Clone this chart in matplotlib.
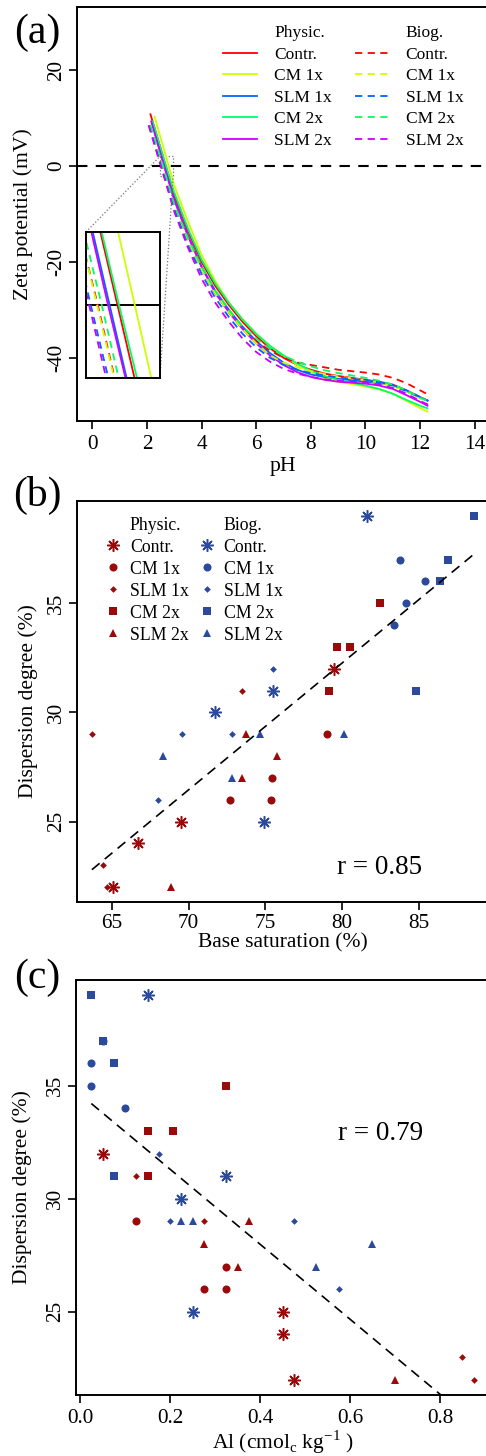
import matplotlib
matplotlib.use("Agg")
import matplotlib.pyplot as plt
import numpy as np
from matplotlib.lines import Line2D
from mpl_toolkits.axes_grid1.inset_locator import mark_inset

plt.rcParams['font.family'] = 'Liberation Serif'
plt.rcParams['mathtext.fontset'] = 'custom'
plt.rcParams['mathtext.rm'] = 'Liberation Serif'
plt.rcParams['axes.unicode_minus'] = False

# ---------------- data ----------------
treat = ["Contr.", "CM 1x", "SLM 1x", "CM 2x", "SLM 2x"]
line_cols = ["#FF0000", "#CCFF00", "#0066FF", "#00FF66", "#CC00FF"]

# (a) zeta potential curves: start point, zero crossing, then common pH grid
ph_grid = [3.0, 3.5, 4.0, 4.5, 5.0, 5.5, 6.0, 6.5, 7.0, 7.5, 8.0, 8.5, 9.0, 9.5,
           10.0, 10.5, 11.0, 11.5, 12.0, 12.3]

phys_start = [(2.12, 11.0), (2.27, 10.5), (2.18, 9.0), (2.20, 9.5), (2.15, 9.5)]
phys_zero = [2.69, 2.80, 2.64, 2.70, 2.63]
phys_zeta = [
    [-6, -13.5, -20, -25, -29, -32.5, -35.5, -38, -40, -41.5, -42.5, -43.3, -43.8, -44.2, -44.6, -45.0, -45.6, -46.8, -48.2, -49.0],
    [-4, -11.5, -18.5, -24, -28.5, -32, -35, -37.5, -39.5, -41.5, -43, -44.3, -45, -45.5, -46, -46.6, -47.5, -49, -50.5, -51.3],
    [-7, -14.5, -21, -26, -30, -33.5, -36.5, -39, -41, -42.5, -43.5, -44, -44.4, -44.7, -45, -45.3, -45.8, -47, -48.3, -49.0],
    [-5.5, -13, -19.5, -24.5, -28.5, -32, -35, -37.5, -39.5, -41.2, -42.7, -43.8, -44.6, -45.2, -45.8, -46.5, -47.5, -48.8, -50, -50.6],
    [-7, -14.5, -21, -26.5, -30.5, -34, -37, -39.5, -41.5, -43, -44, -44.6, -45, -45.2, -45.4, -45.8, -46.5, -47.8, -49.2, -50.1],
]
biog_start = [(2.10, 8.5), (2.12, 8.5), (2.08, 8.5), (2.13, 8.5), (2.06, 8.5)]
biog_zero = [2.565, 2.56, 2.52, 2.59, 2.51]
biog_zeta = [
    [-8.5, -15.5, -21.5, -26.5, -30.5, -34, -36.5, -38.5, -40, -41, -41.5, -42, -42.5, -42.8, -43.1, -43.5, -44.2, -45.3, -46.8, -47.7],
    [-8.5, -15.5, -21.5, -26.5, -30.5, -34, -37, -39.5, -41, -42, -42.8, -43.4, -43.9, -44.3, -44.7, -45.2, -45.9, -47, -48.5, -49.3],
    [-9, -16.5, -22.5, -27.5, -31.5, -35, -37.8, -40, -41.5, -42.5, -43.2, -43.7, -44.1, -44.4, -44.7, -45.1, -45.7, -46.8, -48.2, -49.0],
    [-8, -15, -21, -26, -30, -33.5, -36, -38, -39.6, -40.8, -41.8, -42.6, -43.2, -43.7, -44.2, -44.8, -45.6, -46.8, -48.3, -49.1],
    [-9.5, -17, -23.5, -28.5, -32.5, -36, -38.8, -40.8, -42.3, -43.3, -44, -44.5, -44.8, -45.0, -45.2, -45.6, -46.3, -47.5, -49, -49.8],
]

# (b) base saturation vs dispersion degree
phys_dd = {
    "Contr.": [32, 25, 24, 22],
    "CM 1x": [29, 27, 26, 26],
    "SLM 1x": [29, 31, 23, 22],
    "CM 2x": [35, 33, 33, 31],
    "SLM 2x": [29, 28, 27, 22],
}
phys_bs = {
    "Contr.": [79.5, 69.5, 66.7, 65.1],
    "CM 1x": [79.0, 75.45, 72.7, 75.35],
    "SLM 1x": [63.7, 73.45, 64.4, 64.7],
    "CM 2x": [82.5, 79.7, 80.5, 79.15],
    "SLM 2x": [73.75, 75.75, 73.45, 68.85],
}
biog_dd = {
    "Contr.": [39, 31, 30, 25],
    "CM 1x": [37, 36, 35, 34],
    "SLM 1x": [32, 29, 29, 26],
    "CM 2x": [39, 37, 36, 31],
    "SLM 2x": [29, 29, 28, 27],
}
biog_bs = {
    "Contr.": [81.6, 75.5, 71.7, 74.9],
    "CM 1x": [83.75, 85.4, 84.15, 83.4],
    "SLM 1x": [75.5, 69.6, 72.85, 68.0],
    "CM 2x": [88.6, 86.9, 86.35, 84.8],
    "SLM 2x": [74.65, 80.1, 68.3, 72.85],
}
# (c) Al vs dispersion degree
phys_dd_c = {
    "Contr.": [32, 25, 24, 22],
    "CM 1x": [29, 27, 26, 26],
    "SLM 1x": [31, 29, 23, 22],
    "CM 2x": [35, 33, 33, 31],
    "SLM 2x": [29, 28, 27, 22],
}
phys_al = {
    "Contr.": [0.05, 0.45, 0.45, 0.475],
    "CM 1x": [0.125, 0.325, 0.275, 0.325],
    "SLM 1x": [0.125, 0.275, 0.85, 0.875],
    "CM 2x": [0.325, 0.15, 0.2075, 0.15],
    "SLM 2x": [0.375, 0.275, 0.35, 0.70],
}
biog_dd_c = {
    "Contr.": [39, 31, 30, 25],
    "CM 1x": [37, 36, 35, 34],
    "SLM 1x": [32, 29, 29, 26],
    "CM 2x": [39, 37, 36, 31],
    "SLM 2x": [29, 29, 28, 27],
}
biog_al = {
    "Contr.": [0.15, 0.325, 0.225, 0.25],
    "CM 1x": [0.05, 0.025, 0.025, 0.10],
    "SLM 1x": [0.175, 0.20, 0.475, 0.575],
    "CM 2x": [0.025, 0.05, 0.075, 0.075],
    "SLM 2x": [0.225, 0.25, 0.65, 0.525],
}

r_b = "r = 0.85"
r_c = "r = 0.79"

# ---------------- styles ----------------
RED = "#9B0A0A"
BLUE = "#2B4A9B"
mk = {
    "Contr.": dict(marker=(8, 2, 0), ms=9, mew=1.1),
    "CM 1x": dict(marker="o", ms=5.8, mew=0),
    "SLM 1x": dict(marker="D", ms=3.4, mew=0),
    "CM 2x": dict(marker="s", ms=5.3, mew=0),
    "SLM 2x": dict(marker="^", ms=6.3, mew=0),
}

W, H = 486, 1456
fig = plt.figure(figsize=(W / 100, H / 100), dpi=100)


def px_axes(l, t, r, b):
    return [l / W, 1 - b / H, (r - l) / W, (b - t) / H]


def style_axes(ax, xpad=4):
    for s in ax.spines.values():
        s.set_linewidth(1.4)
    ax.tick_params(direction='out', length=6, width=1.2, labelsize=15.3,
                   labelfontfamily='Liberation Serif')
    ax.tick_params(axis='x', pad=xpad)
    ax.tick_params(axis='y', pad=2)
    for lab in ax.get_yticklabels():
        lab.set_rotation(90)
        lab.set_va('center')


def ftext(x, y, s, **kw):
    fig.text(x / W, 1 - y / H, s, ha='center', va='center', **kw)


# ---------------- (a) ----------------
ax = fig.add_axes(px_axes(77, 7, 490, 421))
axins = ax.inset_axes([0.0218, 0.1039, 0.179, 0.3527])


def draw_curves(a, lw):
    for i in range(5):
        x = [phys_start[i][0], phys_zero[i]] + ph_grid
        y = [phys_start[i][1], 0] + phys_zeta[i]
        a.plot(x, y, color=line_cols[i], lw=lw, solid_capstyle='butt')
    for i in range(5):
        x = [biog_start[i][0], biog_zero[i]] + ph_grid
        y = [biog_start[i][1], 0] + biog_zeta[i]
        a.plot(x, y, color=line_cols[i], lw=lw, ls=(0, (4, 3)))


ax.axhline(0, color='black', lw=1.5, ls=(0, (5, 4)))
draw_curves(ax, 1.3)
ax.set_xlim(-0.56, 14.56)
ax.set_ylim(-53.2, 33.2)
ax.set_xticks(np.arange(0, 15, 2))
ax.set_yticks([-40, -20, 0, 20])
style_axes(ax)

axins.axhline(0, color='black', lw=1.4)
draw_curves(axins, 1.3)
axins.set_xlim(2.49, 2.96)
axins.set_ylim(-2.1, 2.1)
axins.set_xticks([])
axins.set_yticks([])
for s in axins.spines.values():
    s.set_linewidth(1.4)
mark_inset(ax, axins, loc1=2, loc2=4, fc='none', ec='0.45', ls=':', lw=0.9)

blank = Line2D([], [], color='none')
hs = [blank] + [Line2D([], [], color=c, lw=1.3) for c in line_cols] \
    + [blank] + [Line2D([], [], color=c, lw=1.3, ls=(0, (4, 3))) for c in line_cols]
ls_ = ["Physic."] + treat + ["Biog."] + treat
ax.legend(hs, ls_, ncol=2, loc='upper left', bbox_to_anchor=(0.3535, 0.9565),
          frameon=False, fontsize=12.5, handlelength=1.95, handletextpad=1.0,
          columnspacing=1.3, labelspacing=0.31, borderpad=0, borderaxespad=0)

ftext(37, 33, "(a)", fontsize=30)
ftext(283, 467, "pH", fontsize=15.6)
ftext(23, 214, "Zeta potential (mV)", fontsize=15.6, rotation=90)

# ---------------- (b) ----------------
ax = fig.add_axes(px_axes(77, 501, 489, 902))
for t in treat:
    ax.plot(phys_bs[t], phys_dd[t], ls='none', color=RED, **mk[t])
    ax.plot(biog_bs[t], biog_dd[t], ls='none', color=BLUE, **mk[t])
xb = np.concatenate([phys_bs[t] for t in treat] + [biog_bs[t] for t in treat])
yb = np.concatenate([phys_dd[t] for t in treat] + [biog_dd[t] for t in treat])
k, c0 = np.polyfit(xb, yb, 1)
xs = np.array([xb.min(), xb.max()])
ax.plot(xs, k * xs + c0, color='black', lw=1.2, ls=(0, (6, 4)))
ax.set_xlim(62.73, 89.57)
ax.set_ylim(21.32, 39.68)
ax.set_xticks([65, 70, 75, 80, 85])
ax.set_yticks([25, 30, 35])
style_axes(ax, xpad=2.5)

hs = [blank] + [Line2D([], [], ls='none', color=RED, **mk[t]) for t in treat] \
    + [blank] + [Line2D([], [], ls='none', color=BLUE, **mk[t]) for t in treat]
ax.legend(hs, ls_, ncol=2, loc='upper left', bbox_to_anchor=(0.066, 0.961),
          frameon=False, fontsize=12.8, handlelength=1.0, handletextpad=0.45,
          columnspacing=0.5, labelspacing=0.28, borderpad=0, borderaxespad=0,
          numpoints=1)

ftext(380, 867, r_b, fontsize=19.5)
ftext(37, 495, "(b)", fontsize=30)
ftext(283, 943, "Base saturation (%)", fontsize=15.5)
ftext(28, 701, "Dispersion degree (%)", fontsize=15.5, rotation=90)

# ---------------- (c) ----------------
ax = fig.add_axes(px_axes(76, 980, 489, 1395))
for t in ["CM 1x", "Contr.", "SLM 1x", "CM 2x", "SLM 2x"]:
    ax.plot(phys_al[t], phys_dd_c[t], ls='none', color=RED, **mk[t])
    ax.plot(biog_al[t], biog_dd_c[t], ls='none', color=BLUE, **mk[t])
xc = np.concatenate([phys_al[t] for t in treat] + [biog_al[t] for t in treat])
yc = np.concatenate([phys_dd_c[t] for t in treat] + [biog_dd_c[t] for t in treat])
k, c0 = np.polyfit(xc, yc, 1)
xs = np.array([xc.min(), xc.max()])
ax.plot(xs, k * xs + c0, color='black', lw=1.2, ls=(0, (6, 4)))
ax.set_xlim(-0.009, 0.909)
ax.set_ylim(21.32, 39.68)
ax.set_xticks([0.0, 0.2, 0.4, 0.6, 0.8])
ax.set_xticklabels(["0.0", "0.2", "0.4", "0.6", "0.8"])
ax.set_yticks([25, 30, 35])
style_axes(ax)

ftext(381, 1133, r_c, fontsize=19.5)
ftext(37, 978, "(c)", fontsize=30)
ftext(283, 1442, r"Al (cmol$_\mathregular{c}$ kg$^\mathregular{-1}$ )", fontsize=15.5)
ftext(22, 1187, "Dispersion degree (%)", fontsize=15.5, rotation=90)

fig.savefig("out.png", dpi=100)
